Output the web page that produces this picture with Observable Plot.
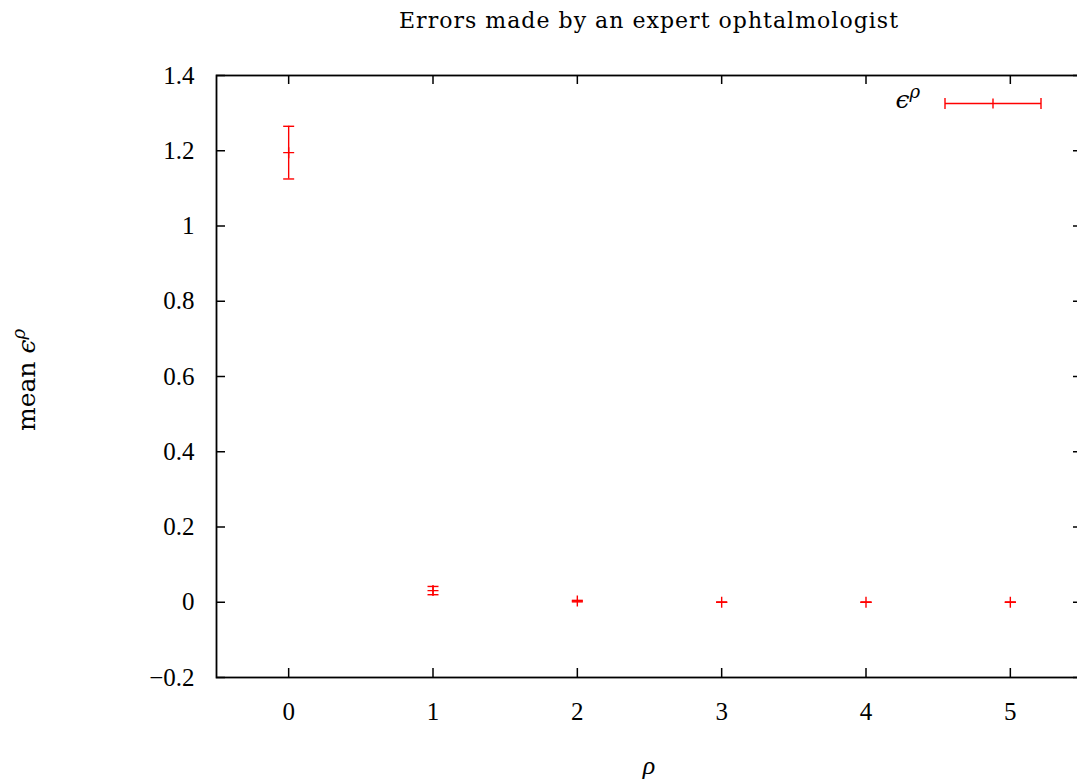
<!DOCTYPE html>
<html><head><meta charset="utf-8">
<script src="https://cdn.jsdelivr.net/npm/d3@7"></script>
<script src="https://cdn.jsdelivr.net/npm/@observablehq/plot@0.6"></script>
<style>
body{margin:0;background:#fff}
#wrap{position:relative;width:1077px;height:781px;overflow:hidden;font-family:"Liberation Serif",serif;background:#fff}
#chart{position:absolute;left:0;top:0;width:1100px}
#chart svg{max-width:none !important}
#over{position:absolute;left:0;top:0}
</style></head><body>
<div id="wrap"><div id="chart"></div>
<svg id="over" width="1077" height="781" xmlns="http://www.w3.org/2000/svg"></svg></div>
<script>
const rho = [0, 1, 2, 3, 4, 5];
const meanEps = [1.195, 0.031, 0.003, 0, 0, 0];
const errEps = [0.070, 0.011, 0.002, 0, 0, 0];
const xTicks = [0, 1, 2, 3, 4, 5];
const yTicks = [-0.2, 0, 0.2, 0.4, 0.6, 0.8, 1, 1.2, 1.4];
const titleText = "Errors made by an expert ophtalmologist";
const xLabelText = "ρ";
const yLabelText = "mean ";
const symEps = "ϵ";
const symRho = "ρ";

const data = rho.map((r, i) => ({x: r, y: meanEps[i], lo: meanEps[i] - errEps[i], hi: meanEps[i] + errEps[i]}));

const hline = {draw(ctx, size) { const r = Math.sqrt(size / Math.PI); ctx.moveTo(-r, 0); ctx.lineTo(r, 0); }};
const plus = {draw(ctx, size) { const r = Math.sqrt(size / Math.PI); ctx.moveTo(-r, 0); ctx.lineTo(r, 0); ctx.moveTo(0, -r); ctx.lineTo(0, r); }};

const W = 1082, H = 781, mL = 216, mR = 0, mT = 75, mB = 104;
const fw = W - mL - mR, fh = H - mT - mB, tl = 9;
const red = "#ff0000";
const font = "'Liberation Serif', serif";
const font2 = "'DejaVu Serif', serif";
const fmt = d => String(+d.toFixed(1)).replace("-", "\u2212");

const chart = Plot.plot({
  width: W, height: H, marginLeft: mL, marginRight: mR, marginTop: mT, marginBottom: mB,
  x: {domain: [-0.5, 5.5]},
  y: {domain: [-0.2, 1.4]},
  style: {fontFamily: font, fontSize: "25px", color: "black", background: "white", maxWidth: "none"},
  marks: [
    Plot.tickY(yTicks, {y: d => d, insetRight: fw - tl, stroke: "black", strokeWidth: 1.5}),
    Plot.tickY(yTicks, {y: d => d, insetLeft: fw - tl, stroke: "black", strokeWidth: 1.5}),
    Plot.tickX(xTicks, {x: d => d, insetTop: fh - tl, stroke: "black", strokeWidth: 1.5}),
    Plot.tickX(xTicks, {x: d => d, insetBottom: fh - tl, stroke: "black", strokeWidth: 1.5}),
    Plot.frame({stroke: "black", strokeWidth: 1.8}),
    Plot.axisY({ticks: yTicks, tickSize: 0, tickPadding: 22, tickFormat: fmt, label: null, fontSize: 25}),
    Plot.axisX({ticks: xTicks, tickSize: 0, tickPadding: 25, tickFormat: d => String(d), label: null, fontSize: 25}),
    Plot.ruleX(data, {x: "x", y1: "lo", y2: "hi", stroke: red, strokeWidth: 1.4}),
    Plot.dot(data, {x: "x", y: "hi", symbol: hline, r: 5.5, stroke: red, fill: "none", strokeWidth: 1.4}),
    Plot.dot(data, {x: "x", y: "lo", symbol: hline, r: 5.5, stroke: red, fill: "none", strokeWidth: 1.4}),
    Plot.dot(data, {x: "x", y: "y", symbol: plus, r: 5.5, stroke: red, fill: "none", strokeWidth: 1.4})
  ]
});
document.getElementById("chart").appendChild(chart);

const over = d3.select("#over");
over.append("text").attr("x", 648.5).attr("y", 28).attr("text-anchor", "middle")
  .attr("font-family", font2).attr("font-size", 22)
  .attr("textLength", 499).attr("lengthAdjust", "spacing").text(titleText);
over.append("text").attr("x", 649).attr("y", 774).attr("text-anchor", "middle")
  .attr("font-family", font).attr("font-size", 26).attr("font-style", "italic").text(xLabelText);
const yl = over.append("text").attr("transform", "translate(35,380) rotate(-90)").attr("text-anchor", "middle")
  .attr("font-family", font2).attr("font-size", 25);
yl.append("tspan").text(yLabelText);
yl.append("tspan").attr("font-style", "italic").text(symEps);
yl.append("tspan").attr("font-style", "italic").attr("font-size", 18).attr("dy", -10).text(symRho);
// legend
const lg = over.append("text").attr("x", 920).attr("y", 108).attr("text-anchor", "end")
  .attr("font-family", font2).attr("font-size", 25);
lg.append("tspan").attr("font-style", "italic").text(symEps);
lg.append("tspan").attr("font-style", "italic").attr("font-size", 18).attr("dy", -10).text(symRho);
const g = over.append("g").attr("stroke", red).attr("stroke-width", 1.4).attr("fill", "none");
g.append("path").attr("d", "M945,103.5H1041M945,98V109M1041,98V109M993,98.5V108.5");
</script>
</body></html>
